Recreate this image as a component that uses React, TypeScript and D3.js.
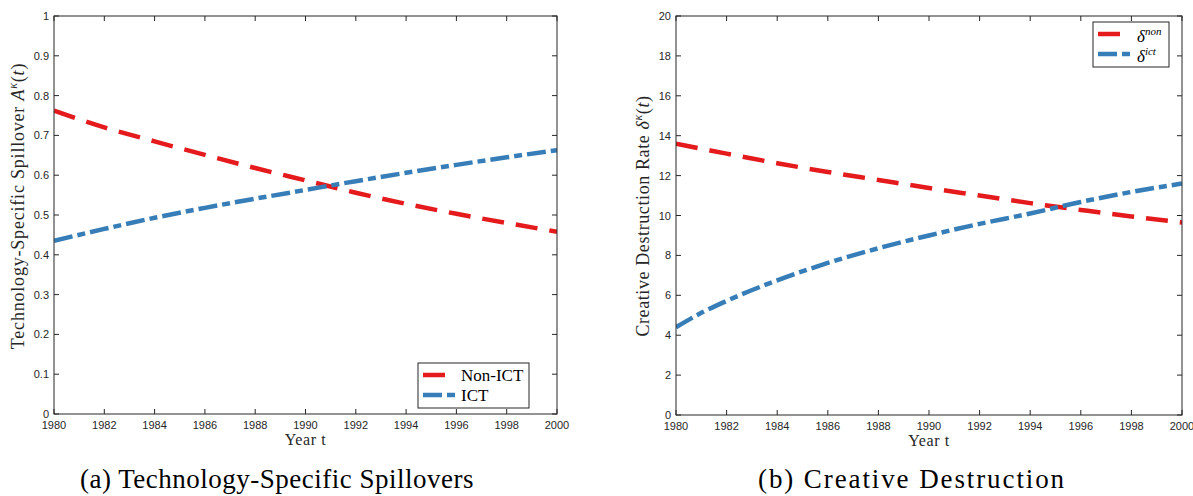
import * as d3 from 'd3';

const years = [1980, 1982, 1984, 1986, 1988, 1990, 1992, 1994, 1996, 1998, 2000];
const spillNon = [0.762, 0.72, 0.685, 0.651, 0.618, 0.587, 0.556, 0.528, 0.503, 0.48, 0.458];
const spillIct = [0.435, 0.465, 0.493, 0.518, 0.541, 0.563, 0.585, 0.606, 0.626, 0.645, 0.663];

const destYears = [1980, 1981, 1982, 1984, 1986, 1988, 1990, 1992, 1994, 1996, 1998, 2000];
const destNon = [13.6, 13.35, 13.1, 12.62, 12.18, 11.78, 11.38, 11.0, 10.62, 10.28, 9.95, 9.65];
const destIct = [4.4, 5.12, 5.72, 6.75, 7.62, 8.36, 9.0, 9.58, 10.1, 10.68, 11.18, 11.6];

const xTicks = d3.range(1980, 2001, 2);
const spillTicks = d3.range(0, 1.0001, 0.1);
const destTicks = d3.range(0, 21, 2);

const RED = '#e41a1c';
const BLUE = '#377eb8';
const AX = '#262626';
const RED_DASH = '22 12';
const BLUE_DASH = '19 5 8 5';

type PanelProps = {
  left: number; right: number; top: number; bottom: number;
  ymax: number; yTicks: number[]; fmt: (v: number) => string;
  xs: number[]; non: number[]; ict: number[];
};

const Panel = ({ left, right, top, bottom, ymax, yTicks, fmt, xs, non, ict }: PanelProps) => {
  const x = d3.scaleLinear().domain([1980, 2000]).range([left, right]);
  const y = d3.scaleLinear().domain([0, ymax]).range([bottom, top]);
  const line = d3.line<number>()
    .x((_, i) => x(xs[i]))
    .y(d => y(d))
    .curve(d3.curveMonotoneX);
  return (
    <g>
      <defs>
        <clipPath id={'clip' + left}>
          <rect x={left} y={top} width={right - left} height={bottom - top} />
        </clipPath>
      </defs>
      <g clipPath={`url(#clip${left})`}>
        <path d={line(non) || ''} fill="none" stroke={RED} strokeWidth={4.5} strokeDasharray={RED_DASH} />
        <path d={line(ict) || ''} fill="none" stroke={BLUE} strokeWidth={4.5} strokeDasharray={BLUE_DASH} />
      </g>
      <rect x={left} y={top} width={right - left} height={bottom - top} fill="none" stroke={AX} strokeWidth={1} />
      {xTicks.map(t => (
        <g key={'x' + t}>
          <line x1={x(t)} x2={x(t)} y1={bottom} y2={bottom - 5} stroke={AX} />
          <line x1={x(t)} x2={x(t)} y1={top} y2={top + 5} stroke={AX} />
          <text x={x(t)} y={bottom + 15} textAnchor="middle" fontSize={11} fill={AX}
            fontFamily="'Liberation Sans', Arial, sans-serif">{t}</text>
        </g>
      ))}
      {yTicks.map(t => (
        <g key={'y' + t}>
          <line x1={left} x2={left + 5} y1={y(t)} y2={y(t)} stroke={AX} />
          <line x1={right} x2={right - 5} y1={y(t)} y2={y(t)} stroke={AX} />
          <text x={left - 5} y={y(t) + 4} textAnchor="end" fontSize={11} fill={AX}
            fontFamily="'Liberation Sans', Arial, sans-serif">{fmt(t)}</text>
        </g>
      ))}
      <text x={(left + right) / 2} y={bottom + 31} textAnchor="middle" fontSize={16} fill={AX}
        letterSpacing={0.6} fontFamily="'Liberation Serif', serif">Year t</text>
    </g>
  );
};

const serif = "'Liberation Serif', 'DejaVu Serif', serif";

export default function App() {
  const fmtSpill = (v: number) => (Math.abs(v - 1) < 1e-9 ? '1' : Math.abs(v) < 1e-9 ? '0' : d3.format('.1f')(v));
  return (
    <svg width={1193} height={496} style={{ position: 'absolute', left: 0, top: 0, background: '#fff' }}>
      <Panel left={54} right={557} top={16} bottom={414} ymax={1} yTicks={spillTicks} fmt={fmtSpill}
        xs={years} non={spillNon} ict={spillIct} />
      <Panel left={676} right={1182} top={16} bottom={415} ymax={20} yTicks={destTicks} fmt={v => String(v)}
        xs={destYears} non={destNon} ict={destIct} />

      {/* y labels */}
      <text transform="translate(24,206) rotate(-90)" textAnchor="middle" fontSize={18} letterSpacing={0.8} fill={AX} fontFamily={serif}>
        Technology-Specific Spillover <tspan fontStyle="italic">A</tspan>
        <tspan fontStyle="italic" dy={-7} fontSize={12}>κ</tspan>
        <tspan dy={7}>(</tspan><tspan fontStyle="italic">t</tspan>)
      </text>
      <text transform="translate(649,216) rotate(-90)" textAnchor="middle" fontSize={18} letterSpacing={0.6} fill={AX} fontFamily={serif}>
        Creative Destruction Rate <tspan fontStyle="italic">δ</tspan>
        <tspan fontStyle="italic" dy={-7} fontSize={12}>κ</tspan>
        <tspan dy={7}>(</tspan><tspan fontStyle="italic">t</tspan>)
      </text>

      {/* legend a */}
      <rect x={418} y={363} width={111} height={45} fill="#fff" stroke={AX} strokeWidth={1} />
      <line x1={423} x2={455} y1={375} y2={375} stroke={RED} strokeWidth={4.5} strokeDasharray={RED_DASH} />
      <line x1={423} x2={455} y1={395} y2={395} stroke={BLUE} strokeWidth={4.5} strokeDasharray={BLUE_DASH} />
      <text x={461} y={381} fontSize={17} fill="#000" fontFamily={serif}>Non-ICT</text>
      <text x={461} y={401} fontSize={17} fill="#000" fontFamily={serif}>ICT</text>

      {/* legend b */}
      <rect x={1093} y={22} width={76} height={45} fill="#fff" stroke={AX} strokeWidth={1} />
      <line x1={1098} x2={1130} y1={34} y2={34} stroke={RED} strokeWidth={4.5} strokeDasharray={RED_DASH} />
      <line x1={1098} x2={1130} y1={54} y2={54} stroke={BLUE} strokeWidth={4.5} strokeDasharray={BLUE_DASH} />
      <text x={1137} y={42} fontSize={17} fill="#000" fontFamily={serif}>
        <tspan fontStyle="italic">δ</tspan><tspan fontStyle="italic" fontSize={11} dy={-7}>non</tspan>
      </text>
      <text x={1137} y={62} fontSize={17} fill="#000" fontFamily={serif}>
        <tspan fontStyle="italic">δ</tspan><tspan fontStyle="italic" fontSize={11} dy={-7}>ict</tspan>
      </text>

      {/* captions */}
      <text x={80} y={488} fontSize={27} letterSpacing={0.5} fill="#000" fontFamily={serif}>(a) Technology-Specific Spillovers</text>
      <text x={758} y={488} fontSize={27} letterSpacing={1.9} fill="#000" fontFamily={serif}>(b) Creative Destruction</text>
    </svg>
  );
}
